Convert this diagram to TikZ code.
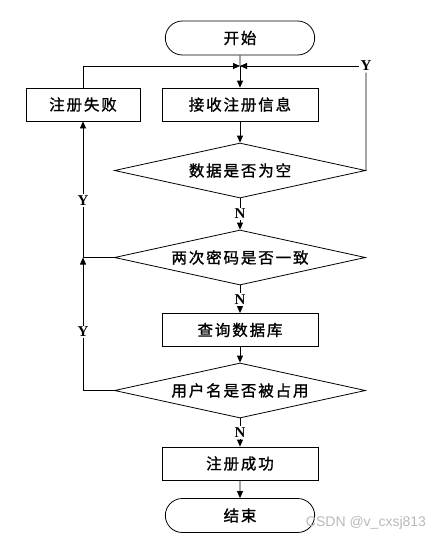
\documentclass[tikz,border=0pt]{standalone}
\usepackage{fontspec}
\setmainfont{Liberation Serif}
\newfontfamily\cjk[LetterSpace=12,FakeBold=1.2]{Noto Sans CJK SC}
\newfontfamily\wmfont{Liberation Sans}
\usetikzlibrary{arrows.meta,shapes.geometric,shapes.misc}
\tikzset{b/.style={draw,line width=.8pt,minimum width=156pt,minimum height=33pt,font=\cjk\fontsize{15.5}{18}\selectfont},
 t/.style={b,rounded rectangle,minimum height=34pt},
 d/.style={b,diamond,aspect=4.5,inner sep=0pt,minimum width=251pt,minimum height=55pt},
 wire/.style={line width=.8pt},arr/.style={wire,-{Triangle[length=7pt,width=6pt]}},
 yn/.style={fill=white,inner sep=1.5pt,font=\bfseries\fontsize{15}{16}\selectfont}}
\begin{document}
\begin{tikzpicture}[x=1pt,y=-1pt]
\useasboundingbox (0,0) rectangle (442,542);
\node[t] (start) at (240,38) {开始};
\node[b] (recv) at (240,104.5) {接收注册信息};
\node[b,minimum width=114pt] (fail) at (83,104.5) {注册失败};
\node[d] (d1) at (240,170.5) {数据是否为空};
\node[d] (d2) at (240,257.5) {两次密码是否一致};
\node[b] (query) at (240,330) {查询数据库};
\node[d] (d3) at (240,390.5) {用户名是否被占用};
\node[b] (ok) at (240,463.5) {注册成功};
\node[t] (stop) at (240,515.5) {结束};
\coordinate (jn) at (240,66);\coordinate (jl) at (83,257.5);
\node[yn] (yr) at (366,66) {Y};
% top loop
\draw[wire] (start) -- (jn);
\draw[arr] (jn) -- (recv);
\draw[arr] (fail) |- (jn);
\draw[wire] (d1.east) -- (yr);\draw[arr] (yr) -- (jn);
% main line
\draw[arr] (recv) -- (d1);\draw[arr] (query) -- (d3);\draw[arr] (ok) -- (stop);
\foreach \a/\b in {d1/d2,d2/query,d3/ok}{\draw[arr] (\a) -- node[yn]{N} (\b);}
% left loop
\draw[arr] (d3.west) -| node[yn,pos=.72]{Y} (jl);
\draw[arr] (d2.west) -- (jl) -- node[yn,pos=.42]{Y} (fail);
\node[font=\wmfont\fontsize{14}{16}\selectfont,text=gray!55] (wm) at (366,523) {CSDN @v\_cxsj813};
\end{tikzpicture}
\end{document}
